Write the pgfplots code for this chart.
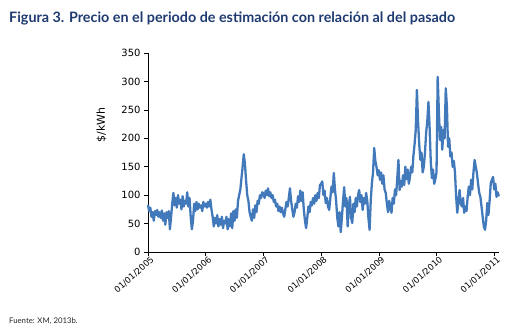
\documentclass[border=0pt]{standalone}
\usepackage{pgfplots}
\pgfplotsset{compat=1.18}
\usepackage{pgfplotstable}
\usepackage{fontspec}
\setmainfont{Lato}
\newfontfamily\tickfont{DejaVu Sans}
\definecolor{serie}{RGB}{66,121,187}
\definecolor{titulo}{RGB}{30,58,112}
\pgfplotstableread[row sep=\\]{
x y\\
2005.00 83\\ 2005.02 72\\ 2005.04 78\\ 2005.06 62\\ 2005.08 70\\ 2005.10 55\\ 2005.12 72\\ 2005.14 65\\ 2005.16 74\\ 2005.18 62\\
2005.20 70\\ 2005.22 60\\ 2005.24 73\\ 2005.26 55\\ 2005.28 68\\ 2005.30 48\\ 2005.32 70\\ 2005.34 60\\ 2005.36 72\\ 2005.38 40\\
2005.40 62\\ 2005.42 85\\ 2005.44 104\\ 2005.46 82\\ 2005.48 95\\ 2005.50 78\\ 2005.52 100\\ 2005.54 85\\ 2005.56 92\\ 2005.58 75\\
2005.60 98\\ 2005.62 80\\ 2005.64 90\\ 2005.66 85\\ 2005.68 105\\ 2005.70 80\\ 2005.72 95\\ 2005.74 62\\ 2005.76 40\\ 2005.78 55\\
2005.80 85\\ 2005.82 72\\ 2005.84 88\\ 2005.86 75\\ 2005.88 85\\ 2005.90 78\\ 2005.92 82\\ 2005.94 72\\ 2005.96 88\\ 2005.98 80\\
2006.00 85\\ 2006.02 78\\ 2006.04 88\\ 2006.06 80\\ 2006.08 92\\ 2006.10 75\\ 2006.12 62\\ 2006.14 45\\ 2006.16 60\\ 2006.18 50\\
2006.20 65\\ 2006.22 45\\ 2006.24 58\\ 2006.26 48\\ 2006.28 62\\ 2006.30 42\\ 2006.32 55\\ 2006.34 50\\ 2006.36 62\\ 2006.38 40\\
2006.40 58\\ 2006.42 45\\ 2006.44 68\\ 2006.46 42\\ 2006.48 72\\ 2006.50 55\\ 2006.52 75\\ 2006.54 60\\ 2006.56 90\\ 2006.58 100\\
2006.60 110\\ 2006.62 130\\ 2006.64 150\\ 2006.66 172\\ 2006.68 155\\ 2006.70 125\\ 2006.72 100\\ 2006.74 90\\ 2006.76 70\\ 2006.78 62\\
2006.80 55\\ 2006.82 75\\ 2006.84 60\\ 2006.86 82\\ 2006.88 70\\ 2006.90 90\\ 2006.92 85\\ 2006.94 100\\ 2006.96 95\\ 2006.98 105\\
2007.00 103\\ 2007.02 95\\ 2007.04 108\\ 2007.06 100\\ 2007.08 112\\ 2007.10 98\\ 2007.12 105\\ 2007.14 95\\ 2007.16 100\\ 2007.18 88\\
2007.20 92\\ 2007.22 80\\ 2007.24 85\\ 2007.26 72\\ 2007.28 80\\ 2007.30 70\\ 2007.32 78\\ 2007.34 68\\ 2007.36 62\\ 2007.38 75\\
2007.40 88\\ 2007.42 80\\ 2007.44 95\\ 2007.46 112\\ 2007.48 90\\ 2007.50 75\\ 2007.52 62\\ 2007.54 70\\ 2007.56 85\\ 2007.58 78\\
2007.60 98\\ 2007.62 88\\ 2007.64 108\\ 2007.66 90\\ 2007.68 105\\ 2007.70 75\\ 2007.72 55\\ 2007.74 42\\ 2007.76 60\\ 2007.78 80\\
2007.80 70\\ 2007.82 88\\ 2007.84 82\\ 2007.86 95\\ 2007.88 85\\ 2007.90 100\\ 2007.92 90\\ 2007.94 104\\ 2007.96 95\\ 2007.98 118\\
2008.00 120\\ 2008.02 124\\ 2008.04 100\\ 2008.06 108\\ 2008.08 86\\ 2008.10 95\\ 2008.12 80\\ 2008.14 74\\ 2008.16 95\\ 2008.18 115\\
2008.20 105\\ 2008.22 139\\ 2008.24 110\\ 2008.26 90\\ 2008.28 60\\ 2008.30 45\\ 2008.32 70\\ 2008.34 35\\ 2008.36 60\\ 2008.38 90\\
2008.40 114\\ 2008.42 80\\ 2008.44 95\\ 2008.46 45\\ 2008.48 80\\ 2008.50 97\\ 2008.52 60\\ 2008.54 51\\ 2008.56 85\\ 2008.58 70\\
2008.60 95\\ 2008.62 80\\ 2008.64 100\\ 2008.66 109\\ 2008.68 88\\ 2008.70 100\\ 2008.72 74\\ 2008.74 95\\ 2008.76 85\\ 2008.78 104\\
2008.80 90\\ 2008.82 60\\ 2008.84 39\\ 2008.86 90\\ 2008.88 121\\ 2008.90 140\\ 2008.92 183\\ 2008.94 160\\ 2008.96 150\\ 2008.98 135\\
2009.00 144\\ 2009.02 127\\ 2009.04 140\\ 2009.06 120\\ 2009.08 135\\ 2009.10 110\\ 2009.12 104\\ 2009.14 85\\ 2009.16 70\\ 2009.18 90\\
2009.20 78\\ 2009.22 69\\ 2009.24 95\\ 2009.26 85\\ 2009.28 110\\ 2009.30 100\\ 2009.32 130\\ 2009.34 162\\ 2009.36 109\\ 2009.38 125\\
2009.40 115\\ 2009.42 135\\ 2009.44 118\\ 2009.46 150\\ 2009.48 128\\ 2009.50 145\\ 2009.52 120\\ 2009.54 132\\ 2009.56 150\\ 2009.58 140\\
2009.60 170\\ 2009.62 190\\ 2009.64 215\\ 2009.66 285\\ 2009.68 230\\ 2009.70 190\\ 2009.72 162\\ 2009.74 175\\ 2009.76 140\\ 2009.78 150\\
2009.80 175\\ 2009.82 210\\ 2009.84 230\\ 2009.86 264\\ 2009.88 220\\ 2009.90 160\\ 2009.92 130\\ 2009.94 145\\ 2009.96 120\\ 2009.98 128\\
2010.00 140\\ 2010.02 308\\ 2010.04 250\\ 2010.06 197\\ 2010.08 220\\ 2010.10 180\\ 2010.12 215\\ 2010.14 200\\ 2010.16 288\\ 2010.18 256\\
2010.20 185\\ 2010.22 200\\ 2010.24 168\\ 2010.26 175\\ 2010.28 150\\ 2010.30 160\\ 2010.32 140\\ 2010.34 97\\ 2010.36 69\\ 2010.38 90\\
2010.40 109\\ 2010.42 85\\ 2010.44 80\\ 2010.46 95\\ 2010.48 69\\ 2010.50 80\\ 2010.52 72\\ 2010.54 97\\ 2010.56 115\\ 2010.58 100\\
2010.60 127\\ 2010.62 110\\ 2010.64 140\\ 2010.66 162\\ 2010.68 150\\ 2010.70 139\\ 2010.72 120\\ 2010.74 104\\ 2010.76 97\\ 2010.78 80\\
2010.80 62\\ 2010.82 45\\ 2010.84 39\\ 2010.86 55\\ 2010.88 86\\ 2010.90 65\\ 2010.92 90\\ 2010.94 121\\ 2010.96 127\\ 2010.98 132\\
2011.00 110\\ 2011.02 120\\ 2011.04 97\\ 2011.06 105\\ 2011.08 98\\
}\datos
\begin{document}
\begin{tikzpicture}[x=1bp,y=1bp]
\path[use as bounding box] (0,0) rectangle (520,333);
\node[anchor=base west, font=\fontsize{14.4}{16}\selectfont\bfseries, text=titulo, inner sep=0pt] at (9,311) {Figura 3. Precio en el periodo de estimación con relación al del pasado};
\node[anchor=base west, font=\fontsize{7.8}{9}\selectfont, text=black!85, inner sep=0pt] at (9,10) {Fuente: XM, 2013b.};
\begin{axis}[
  at={(148bp,81bp)}, anchor=origin,
  scale only axis, width=351.4bp, height=199bp,
  xmin=2005, xmax=2011.09, ymin=0, ymax=350,
  axis lines*=left,
  axis line style={black, line width=0.8pt},
  tick align=outside, major tick length=4bp,
  tick style={black, line width=0.6pt},
  xtick={2005,2006,2007,2008,2009,2010,2011},
  xticklabels={01/01/2005,01/01/2006,01/01/2007,01/01/2008,01/01/2009,01/01/2010,01/01/2011},
  xticklabel style={font=\tickfont\fontsize{8.6}{9}\selectfont, rotate=42, anchor=north east, inner sep=1pt, xshift=3bp},
  ytick={0,50,100,150,200,250,300,350},
  yticklabel style={font=\tickfont\fontsize{10}{12}\selectfont},
  /pgf/number format/assume math mode=true,
  ylabel={\tickfont\fontsize{11}{12}\selectfont \$/kWh},
  ylabel style={at={(axis description cs:0,0.64)}, anchor=south, yshift=38bp},
  clip=false,
]
\addplot[serie, line width=2.3pt, line join=round] table[x=x,y=y] {\datos};
\end{axis}
\end{tikzpicture}
\end{document}
